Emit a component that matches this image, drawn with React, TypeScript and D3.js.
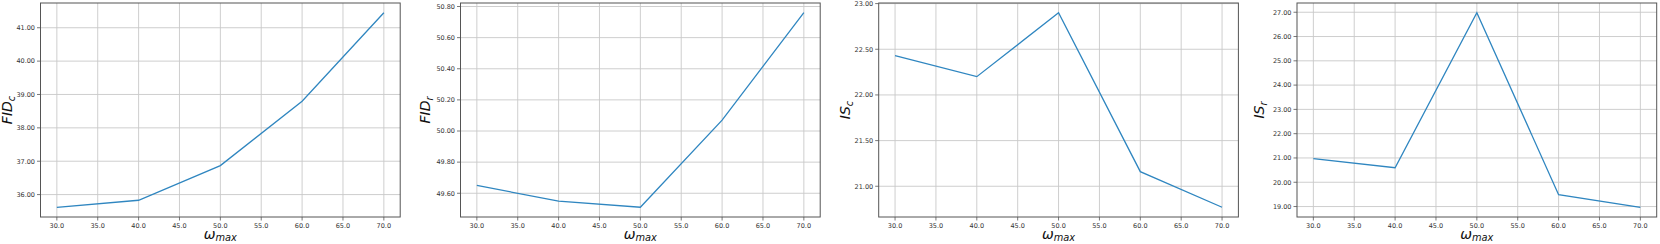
import React from "react";
import * as d3 from "d3";

const omegaMax = [30, 40, 50, 60, 70];
const fidC = [35.62, 35.83, 36.87, 38.8, 41.45];
const fidR = [49.65, 49.55, 49.51, 50.07, 50.76];
const isC = [22.43, 22.2, 22.9, 21.16, 20.77];
const isR = [20.97, 20.6, 26.98, 19.49, 18.97];

const xTicks = [30, 35, 40, 45, 50, 55, 60, 65, 70];
const yTicksFidC = [36, 37, 38, 39, 40, 41];
const yTicksFidR = [49.6, 49.8, 50.0, 50.2, 50.4, 50.6, 50.8];
const yTicksIsC = [21.0, 21.5, 22.0, 22.5, 23.0];
const yTicksIsR = [19, 20, 21, 22, 23, 24, 25, 26, 27];

const panels = [
  { values: fidC, ticks: yTicksFidC, main: "FID", sub: "c", left: 40.5, labelX: 12 },
  { values: fidR, ticks: yTicksFidR, main: "FID", sub: "r", left: 460.5, labelX: 430 },
  { values: isC, ticks: yTicksIsC, main: "IS", sub: "c", left: 878.7, labelX: 850 },
  { values: isR, ticks: yTicksIsR, main: "IS", sub: "r", left: 1297, labelX: 1264 },
];

const W = 1660;
const H = 244;
const TOP = 3;
const BOTTOM = 217;
const PW = 359.7;
const FONT = "DejaVu Sans, sans-serif";

function padExtent(vals: number[]): [number, number] {
  const [a, b] = d3.extent(vals) as [number, number];
  const m = (b - a) * 0.05;
  return [a - m, b + m];
}

function Panel({ p }: { p: (typeof panels)[number] }) {
  const x = d3.scaleLinear().domain(padExtent(omegaMax)).range([p.left, p.left + PW]);
  const y = d3.scaleLinear().domain(padExtent(p.values)).range([BOTTOM, TOP]);
  const line = d3
    .line<number>()
    .x((_, i) => x(omegaMax[i]))
    .y((d) => y(d));
  const yMid = (TOP + BOTTOM) / 2;
  return (
    <g>
      {xTicks.map((t) => (
        <line key={"gx" + t} x1={x(t)} x2={x(t)} y1={TOP} y2={BOTTOM} stroke="#c8c8c8" strokeWidth={0.9} />
      ))}
      {p.ticks.map((t) => (
        <line key={"gy" + t} x1={p.left} x2={p.left + PW} y1={y(t)} y2={y(t)} stroke="#c8c8c8" strokeWidth={0.9} />
      ))}
      <path d={line(p.values) || ""} fill="none" stroke="#2f86c0" strokeWidth={1.3} />
      <rect x={p.left} y={TOP} width={PW} height={BOTTOM - TOP} fill="none" stroke="#555" strokeWidth={1} />
      {xTicks.map((t) => (
        <g key={"tx" + t}>
          <line x1={x(t)} x2={x(t)} y1={BOTTOM} y2={BOTTOM + 3.5} stroke="#555" strokeWidth={0.8} />
          <text x={x(t)} y={BOTTOM + 11} fontSize={6.5} fill="#333" textAnchor="middle" fontFamily={FONT}>
            {d3.format(".1f")(t)}
          </text>
        </g>
      ))}
      {p.ticks.map((t) => (
        <g key={"ty" + t}>
          <line x1={p.left - 3.5} x2={p.left} y1={y(t)} y2={y(t)} stroke="#555" strokeWidth={0.8} />
          <text x={p.left - 5.5} y={y(t) + 2.3} fontSize={6.5} fill="#333" textAnchor="end" fontFamily={FONT}>
            {d3.format(".2f")(t)}
          </text>
        </g>
      ))}
      <text
        x={x(50)}
        y={239}
        fontSize={14}
        fontStyle="italic"
        textAnchor="middle"
        fontFamily={FONT}
        fill="#111"
      >
        ω<tspan fontSize={9.8} dy={2}>max</tspan>
      </text>
      <text
        transform={`translate(${p.labelX},${yMid}) rotate(-90)`}
        fontSize={14}
        fontStyle="italic"
        textAnchor="middle"
        fontFamily={FONT}
        fill="#111"
      >
        {p.main}
        <tspan fontSize={9.8} dy={2.5}>{p.sub}</tspan>
      </text>
    </g>
  );
}

export default function App() {
  return (
    <svg
      width={W}
      height={H}
      style={{ position: "absolute", left: 0, top: 0, background: "#fff" }}
    >
      <rect width={W} height={H} fill="#fff" />
      {panels.map((p, i) => (
        <Panel key={i} p={p} />
      ))}
    </svg>
  );
}
